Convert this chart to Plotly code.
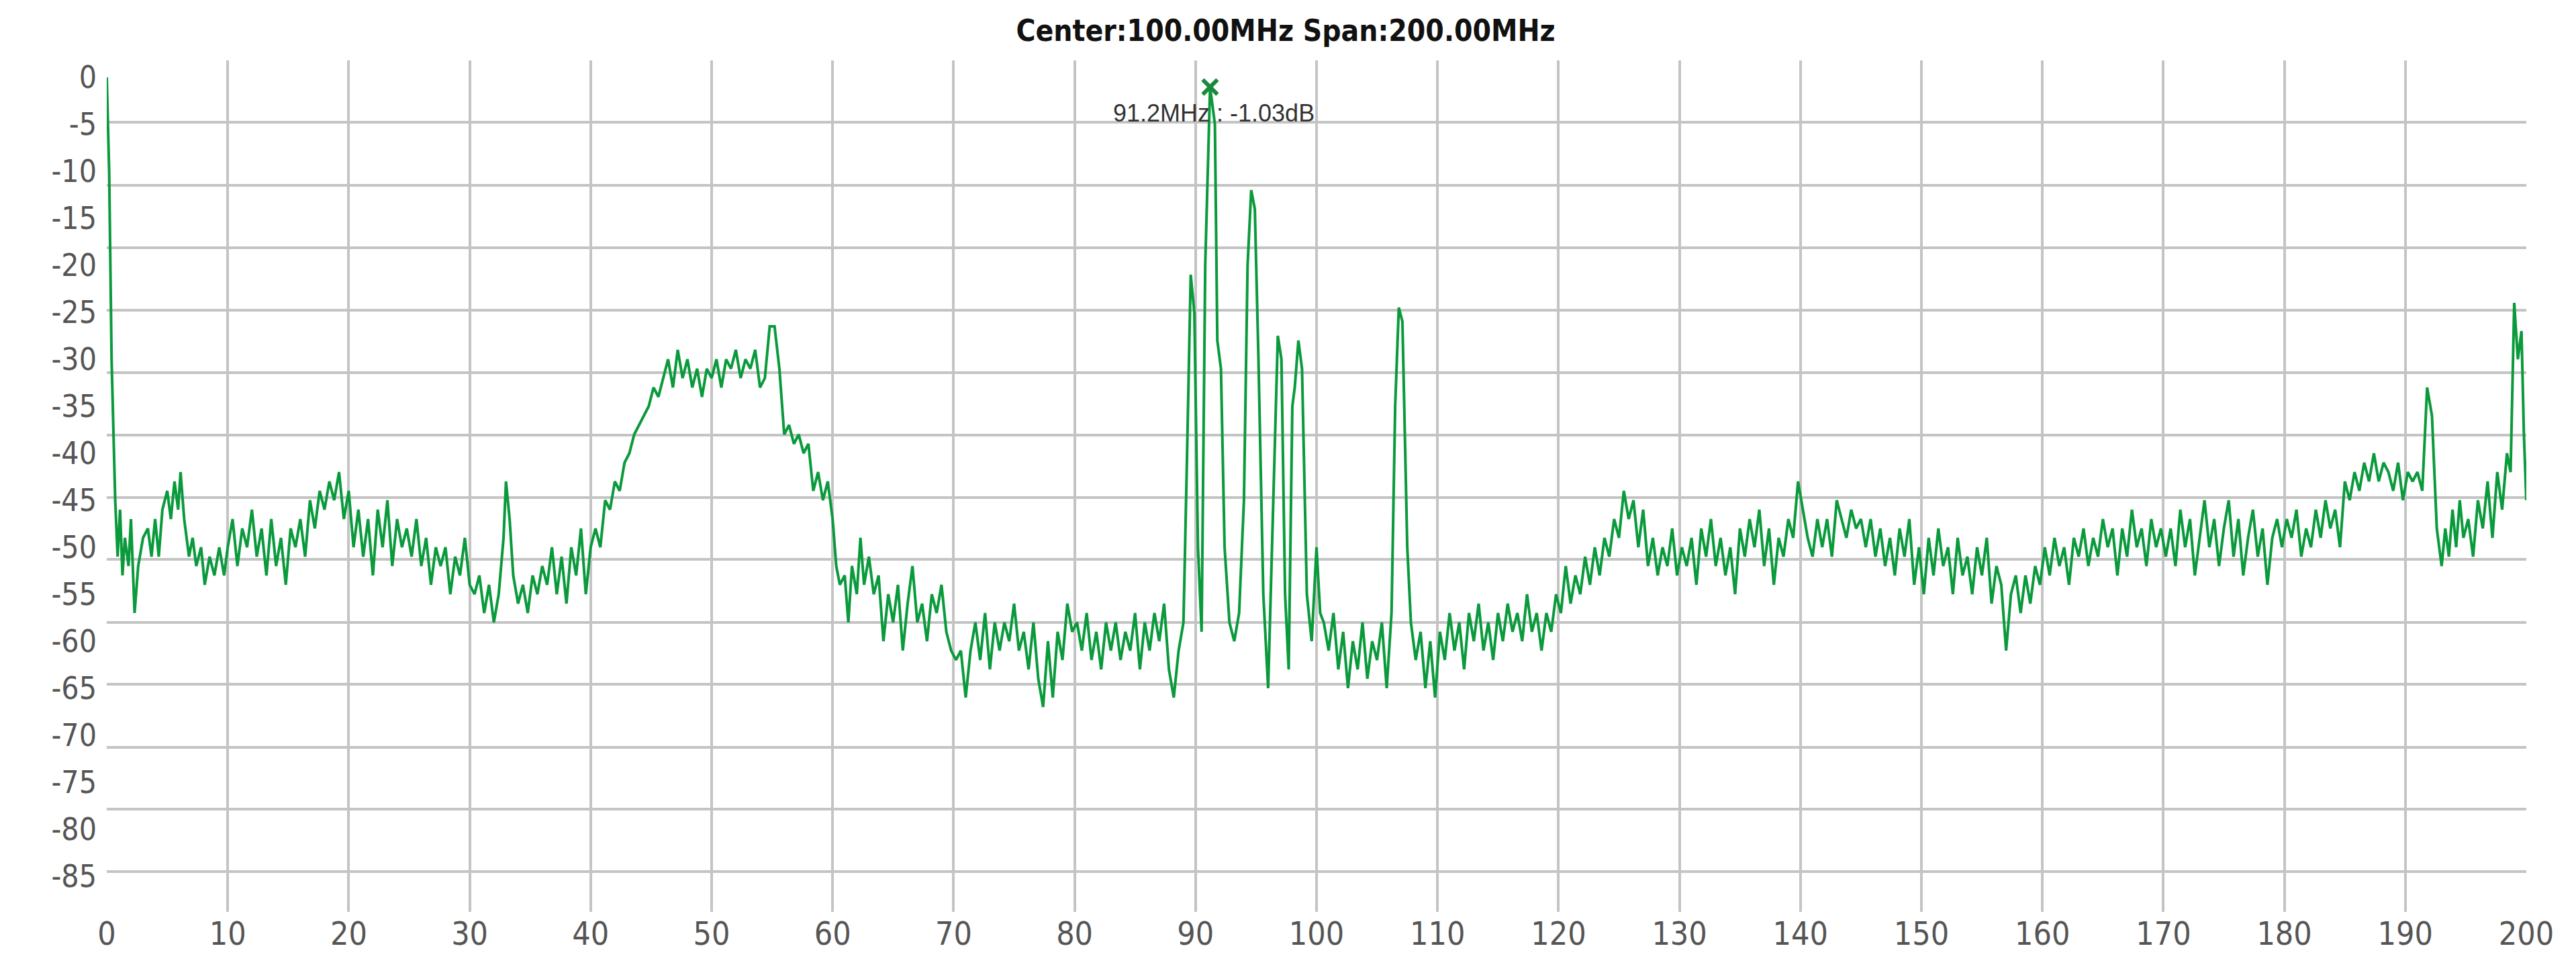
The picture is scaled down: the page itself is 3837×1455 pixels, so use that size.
import plotly.graph_objects as go

# spectrum trace (MHz, dB)
freq_mhz = [
    0, 0.2, 0.4, 0.7, 0.9, 1.1, 1.3, 1.5, 1.8, 2.0, 2.3, 2.6, 3.0, 3.4, 3.7, 4.0, 4.3, 4.6, 5.0, 5.3, 5.6, 5.9, 6.1, 6.4, 6.8, 7.1, 7.4, 7.8, 8.1, 8.5, 8.9, 9.3, 9.7, 10.0,
    10.4, 10.8, 11.2, 11.6, 12.0, 12.4, 12.8, 13.2, 13.6, 14.0, 14.4, 14.8, 15.2, 15.6, 16.0, 16.4, 16.8, 17.2, 17.6, 18.0, 18.4, 18.8, 19.2, 19.6, 20.0,
    20.4, 20.8, 21.2, 21.6, 22.0, 22.4, 22.8, 23.2, 23.6, 24.0, 24.4, 24.8, 25.2, 25.6, 26.0, 26.4, 26.8, 27.2, 27.6, 28.0, 28.4, 28.8, 29.2, 29.6, 30.0,
    30.4, 30.8, 31.2, 31.6, 32.0, 32.4, 32.8, 33.0, 33.3, 33.6, 34.0, 34.4, 34.8, 35.2, 35.6, 36.0, 36.4, 36.8, 37.2, 37.6, 38.0, 38.4, 38.8, 39.2, 39.6, 40.0,
    40.4, 40.8, 41.2, 41.6, 42.0, 42.4, 42.8, 43.2, 43.6, 44.0, 44.4, 44.8, 45.2, 45.6, 46.0, 46.4, 46.8, 47.2, 47.6, 48.0, 48.4, 48.8, 49.2, 49.6, 50.0,
    50.4, 50.8, 51.2, 51.6, 52.0, 52.4, 52.8, 53.2, 53.6, 54.0, 54.4, 54.8, 55.2, 55.6, 56.0, 56.4, 56.8, 57.2, 57.6, 58.0, 58.4, 58.8, 59.2, 59.6, 60.0,
    60.3, 60.6, 61.0, 61.3, 61.6, 62.0, 62.3, 62.6, 63.0, 63.4, 63.8, 64.2, 64.6, 65.0, 65.4, 65.8, 66.2, 66.6, 67.0, 67.4, 67.8, 68.2, 68.6, 69.0, 69.4, 69.8, 70.2,
    70.6, 71.0, 71.4, 71.8, 72.2, 72.6, 73.0, 73.4, 73.8, 74.2, 74.6, 75.0, 75.4, 75.8, 76.2, 76.6, 77.0, 77.4, 77.8, 78.2, 78.6, 79.0, 79.4, 79.8, 80.2,
    80.6, 81.0, 81.4, 81.8, 82.2, 82.6, 83.0, 83.4, 83.8, 84.2, 84.6, 85.0, 85.4, 85.8, 86.2, 86.6, 87.0, 87.4, 87.8, 88.2, 88.6, 89.0, 89.3, 89.6, 89.9, 90.2, 90.5,
    90.8, 91.2, 91.6, 91.8, 92.1, 92.4, 92.8, 93.2, 93.6, 94.0, 94.3, 94.6, 94.9, 95.2, 95.6, 96.0, 96.4, 96.8, 97.1, 97.4, 97.7, 98.0, 98.2, 98.5, 98.8, 99.2, 99.6, 100.0, 100.3,
    100.6, 101.0, 101.4, 101.8, 102.2, 102.6, 103.0, 103.4, 103.8, 104.2, 104.6, 105.0, 105.4, 105.8, 106.2, 106.5, 106.8, 107.1, 107.5, 107.8, 108.2, 108.6, 109.0, 109.4, 109.8, 110.2,
    110.6, 111.0, 111.4, 111.8, 112.2, 112.6, 113.0, 113.4, 113.8, 114.2, 114.6, 115.0, 115.4, 115.8, 116.2, 116.6, 117.0, 117.4, 117.8, 118.2, 118.6, 119.0, 119.4, 119.8, 120.2,
    120.6, 121.0, 121.4, 121.8, 122.2, 122.6, 123.0, 123.4, 123.8, 124.2, 124.6, 125.0, 125.4, 125.8, 126.2, 126.6, 127.0, 127.4, 127.8, 128.2, 128.6, 129.0, 129.4, 129.8, 130.2,
    130.6, 131.0, 131.4, 131.8, 132.2, 132.6, 133.0, 133.4, 133.8, 134.2, 134.6, 135.0, 135.4, 135.8, 136.2, 136.6, 137.0, 137.4, 137.8, 138.2, 138.6, 139.0, 139.4, 139.8, 140.2,
    140.6, 141.0, 141.4, 141.8, 142.2, 142.6, 143.0, 143.4, 143.8, 144.2, 144.6, 145.0, 145.4, 145.8, 146.2, 146.6, 147.0, 147.4, 147.8, 148.2, 148.6, 149.0, 149.4, 149.8, 150.2,
    150.6, 151.0, 151.4, 151.8, 152.2, 152.6, 153.0, 153.4, 153.8, 154.2, 154.6, 155.0, 155.4, 155.8, 156.2, 156.6, 157.0, 157.4, 157.8, 158.2, 158.6, 159.0, 159.4, 159.8, 160.2,
    160.6, 161.0, 161.4, 161.8, 162.2, 162.6, 163.0, 163.4, 163.8, 164.2, 164.6, 165.0, 165.4, 165.8, 166.2, 166.6, 167.0, 167.4, 167.8, 168.2, 168.6, 169.0, 169.4, 169.8, 170.2,
    170.6, 171.0, 171.4, 171.8, 172.2, 172.6, 173.0, 173.4, 173.8, 174.2, 174.6, 175.0, 175.4, 175.8, 176.2, 176.6, 177.0, 177.4, 177.8, 178.2, 178.6, 179.0, 179.4, 179.8, 180.2,
    180.6, 181.0, 181.4, 181.8, 182.2, 182.6, 183.0, 183.4, 183.8, 184.2, 184.6, 185.0, 185.4, 185.8, 186.2, 186.6, 187.0, 187.4, 187.8, 188.2, 188.6, 189.0, 189.4, 189.8, 190.2,
    190.6, 191.0, 191.4, 191.8, 192.2, 192.6, 193.0, 193.3, 193.6, 193.9, 194.2, 194.5, 194.8, 195.2, 195.6, 196.0, 196.4, 196.8, 197.2, 197.6, 198.0, 198.4, 198.7, 199.0, 199.3, 199.6, 199.8, 200.0,
]
level_db = [
    0, -10, -30, -45, -51, -46, -53, -49, -52, -47, -57, -52, -49, -48, -51, -47, -51, -46, -44, -47, -43, -46, -42, -47, -51, -49, -52, -50, -54, -51, -53, -50, -53, -50,
    -47, -52, -48, -50, -46, -51, -48, -53, -47, -52, -49, -54, -48, -50, -47, -51, -45, -48, -44, -46, -43, -45, -42, -47, -44,
    -50, -46, -51, -47, -53, -46, -50, -45, -52, -47, -50, -48, -51, -47, -52, -49, -54, -50, -52, -50, -55, -51, -53, -49, -54,
    -55, -53, -57, -54, -58, -55, -49, -43, -47, -53, -56, -54, -57, -53, -55, -52, -54, -50, -55, -51, -56, -50, -53, -48, -55, -50,
    -48, -50, -45, -46, -43, -44, -41, -40, -38, -37, -36, -35, -33, -34, -32, -30, -33, -29, -32, -30, -33, -31, -34, -31, -32,
    -30, -33, -30, -31, -29, -32, -30, -31, -29, -33, -32, -26.5, -26.5, -31, -38, -37, -39, -38, -40, -39, -44, -42, -45, -43, -47,
    -52, -54, -53, -58, -52, -55, -49, -54, -51, -55, -53, -60, -55, -58, -54, -61, -56, -52, -58, -56, -60, -55, -57, -54, -59, -61, -62,
    -61, -66, -61, -58, -62, -57, -63, -58, -61, -58, -60, -56, -61, -59, -63, -58, -64, -67, -60, -66, -59, -62, -56, -59, -58,
    -61, -57, -62, -59, -63, -58, -61, -58, -62, -59, -61, -57, -63, -58, -61, -57, -60, -56, -63, -66, -61, -58, -40, -21, -25, -50, -59,
    -20, -1, -5, -28, -31, -50, -58, -60, -57, -45, -20, -12, -14, -30, -55, -65, -45, -27.5, -30, -55, -63, -35, -33, -28, -31, -55, -60, -50, -57,
    -58, -61, -57, -63, -59, -65, -60, -63, -58, -64, -60, -62, -58, -65, -57, -35, -24.5, -26, -50, -58, -62, -59, -65, -60, -66, -59,
    -62, -57, -61, -58, -63, -57, -60, -56, -61, -58, -62, -57, -60, -56, -59, -57, -60, -55, -59, -57, -61, -57, -59, -55, -57,
    -52, -56, -53, -55, -51, -54, -50, -53, -49, -51, -47, -49, -44, -47, -45, -50, -46, -52, -49, -53, -50, -52, -48, -53, -50,
    -52, -49, -54, -48, -51, -47, -52, -49, -53, -50, -55, -48, -51, -47, -50, -46, -52, -48, -54, -49, -51, -47, -49, -43, -46,
    -49, -51, -47, -50, -47, -51, -45, -47, -49, -46, -48, -47, -50, -47, -51, -48, -52, -49, -53, -48, -51, -47, -54, -50, -55,
    -49, -53, -48, -52, -50, -55, -49, -53, -51, -55, -50, -53, -49, -56, -52, -54, -61, -55, -53, -57, -53, -56, -52, -54, -50,
    -53, -49, -52, -50, -54, -49, -51, -48, -52, -49, -51, -47, -50, -48, -53, -48, -51, -46, -50, -48, -52, -47, -50, -48, -51,
    -48, -52, -46, -50, -47, -53, -49, -45, -50, -47, -52, -48, -45, -51, -47, -53, -49, -46, -51, -48, -54, -49, -47, -50, -47,
    -49, -46, -51, -48, -50, -46, -49, -45, -48, -46, -50, -43, -45, -42, -44, -41, -43, -40, -43, -41, -42, -44, -41, -45, -42,
    -43, -42, -44, -33, -36, -48, -52, -48, -51, -46, -50, -45, -49, -47, -51, -45, -48, -43, -49, -42, -46, -40, -42, -24, -30, -27, -38, -45,
]

x_ticks = list(range(0, 201, 10))
y_ticks = list(range(0, -86, -5))
y_tick_text = [str(v) for v in y_ticks]  # plain hyphen, like the analyser UI
# horizontal grid in the screenshot is not aligned with the dB labels
y_grid = [1.8, -4.8, -11.5, -18.1, -24.8, -31.4, -38.1, -44.7, -51.3, -58.0, -64.6, -71.3, -77.9, -84.5]

marker_freq = 91.2
marker_level = -1.03
marker_text = "91.2MHz : -1.03dB"
title_text = "Center:100.00MHz Span:200.00MHz"

y_range = [-88.8, 1.8]
green = "#0a9a3c"

fig = go.Figure()

# invisible trace so the grid axis gets drawn
fig.add_trace(go.Scatter(x=[0, 200], y=y_range, yaxis="y2", mode="lines",
                         line=dict(width=0), showlegend=False, hoverinfo="skip"))

fig.add_trace(go.Scatter(x=freq_mhz, y=level_db, mode="lines",
                         line=dict(color=green, width=4), showlegend=False))

fig.add_trace(go.Scatter(x=[marker_freq], y=[marker_level], mode="markers",
                         marker=dict(symbol="x-thin", size=22, line=dict(color="#1a8a3a", width=6)),
                         showlegend=False))

fig.add_annotation(x=marker_freq + 0.3, y=-3.8, text=marker_text, showarrow=False,
                   font=dict(family="Liberation Sans", size=36, color="#333333"))

fig.update_layout(
    width=3837, height=1455,
    margin=dict(l=151, r=82, t=82, b=105),
    paper_bgcolor="white", plot_bgcolor="white",
    title=dict(text=title_text, x=0.497, xanchor="center", y=0.985, yanchor="top",
               font=dict(family="DejaVu Sans Condensed, DejaVu Sans", size=44, color="#111111", weight="bold")),
    xaxis=dict(range=[0, 200], tickvals=x_ticks, showgrid=True, gridcolor="#c4c4c4", gridwidth=4,
               zeroline=False, showline=False, ticks="",
               tickfont=dict(family="DejaVu Sans Condensed", size=48, color="#555555")),
    yaxis=dict(range=y_range, tickvals=y_ticks, ticktext=y_tick_text, showgrid=False, zeroline=False, ticks="",
               ticklabelstandoff=14,
               tickfont=dict(family="DejaVu Sans Condensed", size=46, color="#555555")),
    yaxis2=dict(range=y_range, overlaying="y", tickvals=y_grid, showticklabels=False,
                showgrid=True, gridcolor="#c4c4c4", gridwidth=4, zeroline=False, ticks=""),
)

fig.write_html("out.html")
